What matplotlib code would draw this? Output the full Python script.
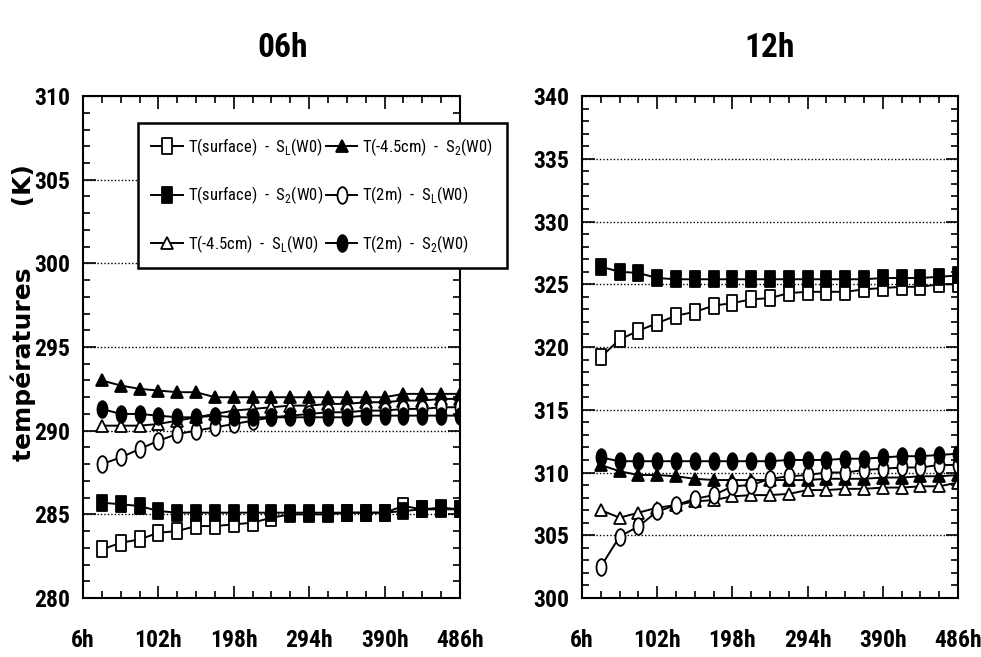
import matplotlib
matplotlib.use('Agg')
import matplotlib.pyplot as plt
from matplotlib.path import Path
from matplotlib.transforms import Affine2D
from matplotlib.ticker import FixedLocator

# hours of each saved point (every 24h from 30h to 486h)
hours = [30, 54, 78, 102, 126, 150, 174, 198, 222, 246,
         270, 294, 318, 342, 366, 390, 414, 438, 462, 486]
xticks = [6, 102, 198, 294, 390, 486]
xtick_labels = ['6h', '102h', '198h', '294h', '390h', '486h']

# 06h run
t06_surf_sl = [282.9, 283.3, 283.5, 283.9, 284.0, 284.3, 284.3, 284.4, 284.5, 284.8,
               285.0, 285.0, 285.0, 285.1, 285.1, 285.1, 285.5, 285.3, 285.3, 285.3]
t06_surf_s2 = [285.7, 285.6, 285.5, 285.2, 285.1, 285.1, 285.1, 285.1, 285.1, 285.1,
               285.1, 285.1, 285.1, 285.1, 285.1, 285.1, 285.2, 285.3, 285.4, 285.3]
t06_soil_sl = [290.3, 290.3, 290.3, 290.4, 290.6, 290.8, 291.0, 291.2, 291.3, 291.4,
               291.5, 291.5, 291.6, 291.6, 291.7, 291.7, 291.8, 291.8, 291.9, 291.9]
t06_soil_s2 = [293.0, 292.7, 292.5, 292.4, 292.3, 292.3, 292.0, 292.0, 292.0, 292.0,
               292.0, 292.0, 292.0, 292.0, 292.0, 292.0, 292.2, 292.2, 292.2, 292.2]
t06_2m_sl = [288.0, 288.4, 288.9, 289.4, 289.8, 290.0, 290.2, 290.4, 290.6, 290.8,
             290.9, 291.0, 291.1, 291.1, 291.2, 291.2, 291.3, 291.3, 291.4, 291.4]
t06_2m_s2 = [291.3, 291.0, 291.0, 290.9, 290.8, 290.8, 290.9, 290.8, 290.8, 290.8,
             290.8, 290.8, 290.8, 290.8, 290.9, 290.9, 290.9, 290.9, 290.9, 290.9]

# 12h run
t12_surf_sl = [319.2, 320.6, 321.3, 321.9, 322.5, 322.8, 323.3, 323.5, 323.8, 323.9,
               324.3, 324.4, 324.4, 324.4, 324.6, 324.7, 324.8, 324.8, 325.0, 325.0]
t12_surf_s2 = [326.4, 326.0, 325.9, 325.5, 325.4, 325.4, 325.4, 325.4, 325.4, 325.4,
               325.4, 325.4, 325.4, 325.4, 325.4, 325.5, 325.5, 325.5, 325.6, 325.7]
t12_soil_sl = [307.0, 306.4, 306.8, 307.2, 307.4, 307.7, 307.8, 308.1, 308.2, 308.2,
               308.3, 308.6, 308.6, 308.7, 308.7, 308.8, 308.8, 308.9, 308.9, 309.2]
t12_soil_s2 = [310.6, 310.1, 309.8, 309.8, 309.7, 309.5, 309.4, 309.4, 309.4, 309.4,
               309.4, 309.4, 309.5, 309.5, 309.5, 309.6, 309.6, 309.7, 309.7, 309.8]
t12_2m_sl = [302.5, 304.9, 305.7, 306.9, 307.4, 307.9, 308.2, 308.9, 309.0, 309.5,
             309.7, 309.8, 310.0, 310.0, 310.2, 310.3, 310.4, 310.4, 310.6, 310.6]
t12_2m_s2 = [311.2, 310.9, 310.9, 310.9, 310.9, 310.9, 310.9, 310.9, 310.9, 310.9,
             311.0, 311.0, 311.0, 311.1, 311.1, 311.2, 311.3, 311.3, 311.4, 311.5]

labels = [r'T(surface)  -  S$_\mathrm{L}$(W0)', r'T(surface)  -  S$_\mathrm{2}$(W0)',
          r'T(-4.5cm)  -  S$_\mathrm{L}$(W0)', r'T(-4.5cm)  -  S$_\mathrm{2}$(W0)',
          r'T(2m)  -  S$_\mathrm{L}$(W0)', r'T(2m)  -  S$_\mathrm{2}$(W0)']

plt.rcParams['mathtext.fontset'] = 'custom'
plt.rcParams['mathtext.rm'] = 'Roboto Condensed'

# tall (stretched) marker shapes as in the scanned figure
tall_box = Path([(-0.3, -0.5), (0.3, -0.5), (0.3, 0.5), (-0.3, 0.5), (-0.3, -0.5)],
                [Path.MOVETO, Path.LINETO, Path.LINETO, Path.LINETO, Path.CLOSEPOLY])
tall_oval = Path.unit_circle().transformed(Affine2D().scale(0.6, 1.0))

styles = [(tall_box, 'white', 12), (tall_box, 'black', 12),
          ('^', 'white', 9), ('^', 'black', 9),
          (tall_oval, 'white', 12), (tall_oval, 'black', 12)]

narrow = ['Roboto Condensed', 'Liberation Sans Narrow', 'Roboto']
cond = dict(family=narrow, weight='bold')

fig = plt.figure(figsize=(9.81, 6.57), dpi=100)
ax1 = fig.add_axes([0.0846, 0.0898, 0.3843, 0.764])
ax2 = fig.add_axes([0.5933, 0.0898, 0.3833, 0.764])


def draw(ax, series, ylo, yhi, title, tx):
    handles = []
    for ys, (mk, fc, ms) in zip(series, styles):
        h, = ax.plot(hours, ys, color='black', lw=1.4, marker=mk, markersize=ms,
                     markerfacecolor=fc, markeredgecolor='black', markeredgewidth=1.3)
        handles.append(h)
    ax.set_xlim(6, 486)
    ax.set_ylim(ylo, yhi)
    ax.xaxis.set_major_locator(FixedLocator(xticks))
    ax.xaxis.set_minor_locator(FixedLocator(list(range(6, 487, 24))))
    yt = list(range(ylo, yhi + 1, 5))
    ax.set_yticks(yt)
    ax.set_yticks(list(range(ylo, yhi + 1)), minor=True)
    ax.set_xticklabels(xtick_labels, fontsize=17, **cond)
    ax.set_yticklabels([str(v) for v in yt], fontsize=17, **cond)
    ax.tick_params(which='both', direction='in', top=True, right=True, width=1.2)
    ax.tick_params(which='major', length=9)
    ax.tick_params(which='minor', length=5)
    ax.tick_params(axis='x', pad=22)
    ax.tick_params(axis='y', pad=9)
    ax.grid(axis='y', which='major', color='black', lw=1.0, linestyle=(0, (1, 1.5)))
    for sp in ax.spines.values():
        sp.set_linewidth(1.5)
    ax.set_title(title, fontsize=24, pad=28, x=tx, **cond)
    return handles


h = draw(ax1, [t06_surf_sl, t06_surf_s2, t06_soil_sl, t06_soil_s2, t06_2m_sl, t06_2m_s2],
         280, 310, '06h', 0.53)
draw(ax2, [t12_surf_sl, t12_surf_s2, t12_soil_sl, t12_soil_s2, t12_2m_sl, t12_2m_s2],
     300, 340, '12h', 0.5)

leg = fig.legend(h, labels, ncol=2, loc='upper left', bbox_to_anchor=(0.1407, 0.8128),
                 frameon=True, fancybox=False, edgecolor='black', framealpha=1,
                 prop={'family': narrow, 'size': 12},
                 handlelength=1.9, handletextpad=0.3, columnspacing=0.15,
                 labelspacing=1.6, borderpad=0.8, borderaxespad=0)
leg.get_frame().set_linewidth(1.8)

fig.text(0.024, 0.524, 'températures       (K)', rotation=90, ha='center', va='center',
         fontsize=18, weight='bold')

fig.savefig('out.png', dpi=100)
